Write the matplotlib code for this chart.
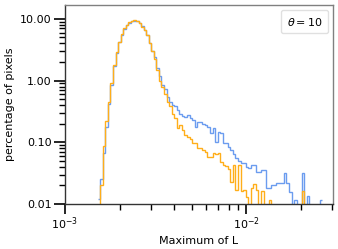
import numpy as np
import matplotlib
matplotlib.use("Agg")
import matplotlib.pyplot as plt
from matplotlib.ticker import FixedLocator, FormatStrFormatter, LogLocator, LogFormatterMathtext, NullFormatter
from matplotlib.lines import Line2D

# log-spaced histogram bins (log10 of first edge, log10 bin width)
first_edge_log = -2.8193
bin_width_log = 0.014088

blue_vals = [0.012, 0.025, 0.068, 0.18, 0.42, 0.85, 1.75, 2.8, 4.2, 5.4,
             6.8, 7.9, 8.6, 9.1, 9.3, 9.2, 8.6, 7.6, 6.6, 5.4,
             4.1, 3.0, 2.4, 1.6, 1.2, 0.85, 0.72, 0.55, 0.45, 0.40,
             0.39, 0.33, 0.29, 0.27, 0.255, 0.28, 0.245, 0.23, 0.18, 0.215,
             0.21, 0.20, 0.19, 0.18, 0.14, 0.17, 0.10, 0.149, 0.14, 0.098,
             0.098, 0.085, 0.075, 0.065, 0.055, 0.05, 0.046, 0.046, 0.04, 0.038,
             0.043, 0.043, 0.033, 0.033, 0.035, 0.035, 0.018, 0.018, 0.02, 0.02,
             0.022, 0.022, 0.022, 0.032, 0.022, 0.0158, 0, 0.0116, 0, 0,
             0.032, 0, 0.0135, 0, 0, 0, 0, 0.0116]

orange_vals = [0, 0.02, 0.088, 0.22, 0.45, 0.9, 1.8, 2.9, 4.3, 5.6,
               7.0, 8.1, 8.8, 9.3, 9.5, 9.3, 8.6, 7.5, 6.6, 5.4,
               4.1, 3.0, 2.2, 1.5, 1.0, 0.78, 0.6, 0.45, 0.39, 0.29,
               0.245, 0.17, 0.19, 0.158, 0.131, 0.123, 0.112, 0.096, 0.096, 0.082,
               0.08, 0.075, 0.07, 0.058, 0.058, 0.066, 0.064, 0.068, 0.048, 0.043,
               0.041, 0.037, 0.023, 0.043, 0.017, 0.043, 0.016, 0.017, 0.013, 0,
               0.018, 0.021, 0.017, 0, 0.016, 0, 0, 0.0116, 0, 0,
               0, 0, 0, 0, 0, 0, 0, 0, 0, 0,
               0.016, 0, 0, 0, 0, 0, 0, 0]

legend_label = r'$\theta=10$'
x_label = 'Maximum of L'
y_label = 'percentage of pixels'
y_ticks = [0.01, 0.1, 1, 10]

n_bins = len(blue_vals)
edges = 10 ** (first_edge_log + bin_width_log * np.arange(n_bins + 1))

fig = plt.figure(figsize=(3.38, 2.49), dpi=100)
ax = fig.add_axes([65/338, 45/249, 268/338, 199/249])
ax.set_xscale('log')
ax.set_yscale('log')

ax.stairs(blue_vals, edges, color='#6b9cef', linewidth=1.0, baseline=None)
ax.stairs(orange_vals, edges, color='#ffae1a', linewidth=1.0, baseline=None)

ax.set_xlim(1e-3, 0.0302)
ax.set_ylim(0.01, 16.8)

ax.yaxis.set_major_locator(FixedLocator(y_ticks))
ax.yaxis.set_major_formatter(FormatStrFormatter('%.2f'))
ax.yaxis.set_minor_locator(LogLocator(base=10, subs=np.arange(2, 10)))
ax.yaxis.set_minor_formatter(NullFormatter())
ax.xaxis.set_major_locator(LogLocator(base=10, numticks=10))
ax.xaxis.set_major_formatter(LogFormatterMathtext())
ax.xaxis.set_minor_locator(LogLocator(base=10, subs=np.arange(2, 10), numticks=10))
ax.xaxis.set_minor_formatter(NullFormatter())

ax.tick_params(axis='y', which='major', length=8, width=1.2, labelsize=8, pad=1.5, direction='out')
ax.tick_params(axis='x', which='major', length=7, width=1.2, labelsize=8, pad=1, direction='out')
ax.tick_params(which='minor', length=4.5, width=1.0, direction='out')

for s in ['top', 'right']:
    ax.spines[s].set_color('0.5')
for s in ['left', 'bottom']:
    ax.spines[s].set_color('0.2')
for s in ax.spines.values():
    s.set_linewidth(1.0)

ax.set_xlabel(x_label, fontsize=8, labelpad=3)
ax.set_ylabel(y_label, fontsize=8, labelpad=4)

leg = ax.legend(handles=[Line2D([], [], alpha=0)], labels=[legend_label],
                handlelength=0, handletextpad=0, loc='upper right', fontsize=8,
                frameon=True, fancybox=True, borderpad=0.5, borderaxespad=0.45)
leg.get_frame().set_edgecolor('0.85')

fig.savefig('out.png', dpi=100)
